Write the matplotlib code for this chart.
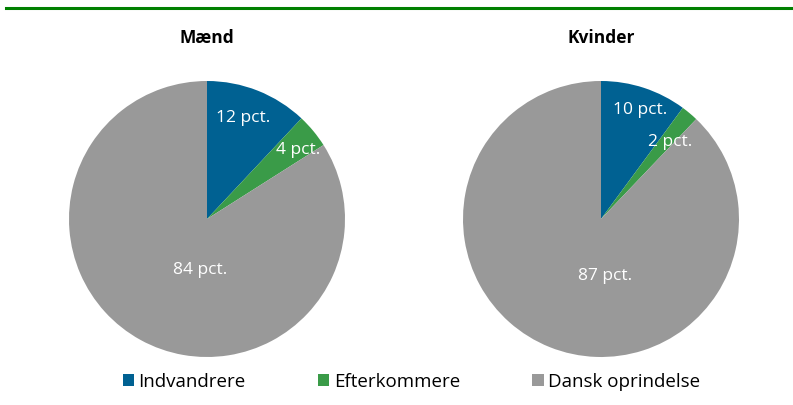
import numpy as np
import matplotlib.pyplot as plt
from matplotlib.lines import Line2D
from matplotlib.patches import Patch

plt.rcParams['font.family'] = ['Open Sans', 'DejaVu Sans']

# data
categories = ['Indvandrere', 'Efterkommere', 'Dansk oprindelse']
titles = ['Mænd', 'Kvinder']
maend = [12, 4, 84]
kvinder = [10, 2, 87]
colors = ['#006192', '#3a9b48', '#999999']

fig = plt.figure(figsize=(7.93, 4.05), dpi=100)

# green rule at top
fig.add_artist(Line2D([6/793, 1], [397/405, 397/405], color='#008000', lw=2.2,
                      transform=fig.transFigure))

centers = [207, 601]
# label spots in pie-radius units
label_xy = [[(0.26, 0.73), (0.66, 0.50), (-0.05, -0.37)],
            [(0.28, 0.79), (0.50, 0.56), (0.03, -0.41)]]
for k, vals in enumerate([maend, kvinder]):
    cx = centers[k]
    ax = fig.add_axes([(cx-138)/793, (405-357)/405, 276/793, 276/405])
    wedges, _ = ax.pie(vals, colors=colors, startangle=90, counterclock=False,
                       radius=1, wedgeprops=dict(linewidth=0))
    for j, w in enumerate(wedges):
        x, y = label_xy[k][j]
        ax.text(x, y, '%d pct.' % vals[j], color='white',
                ha='center', va='center', fontsize=12.5)
    ax.set_xlim(-1, 1)
    ax.set_ylim(-1, 1)
    ax.set_aspect('equal')
    fig.text(cx/793, (405-38)/405, titles[k], ha='center', va='center',
             fontsize=12.5, fontweight='bold')

handles = [Patch(facecolor=c, edgecolor='none') for c in colors]
fig.legend(handles, categories, loc='center', bbox_to_anchor=(0.519, (405-382)/405),
           ncol=3, frameon=False, fontsize=13.5, handlelength=0.6, handleheight=0.6,
           handletextpad=0.25, columnspacing=3.85)

fig.savefig('out.png', dpi=100)
